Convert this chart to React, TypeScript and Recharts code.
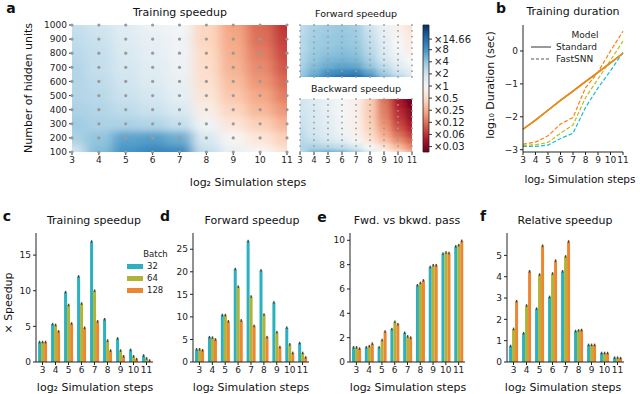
import {
  ScatterChart,
  Scatter,
  XAxis,
  YAxis,
  LineChart,
  Line,
  BarChart,
  Bar,
  Legend,
  ComposedChart,
  ReferenceArea,
} from "recharts";

const steps = [3, 4, 5, 6, 7, 8, 9, 10, 11];
const hiddenUnits = [100, 200, 300, 400, 500, 600, 700, 800, 900, 1000];

// heatmaps: log2 of the speedup, one row per hidden-unit count (100 -> 1000), one column per step (3 -> 11)
const trainingLog2 = [
  [1.0, 2.2, 3.0, 3.3, 3.2, 1.2, 0.4, -0.1, -0.8],
  [1.6, 2.0, 2.7, 2.8, 2.5, 0.8, -0.1, -0.7, -1.3],
  [1.8, 1.6, 1.6, 1.5, 1.2, 0.2, -0.7, -1.3, -1.9],
  [1.6, 1.5, 1.3, 1.1, 0.8, -0.4, -1.2, -1.8, -2.4],
  [1.5, 1.4, 1.1, 0.9, 0.5, -0.7, -1.5, -2.1, -2.8],
  [1.5, 1.3, 1.0, 0.7, 0.4, -0.9, -1.7, -2.4, -3.1],
  [1.5, 1.2, 0.9, 0.6, 0.3, -1.0, -1.9, -2.6, -3.4],
  [1.4, 1.2, 0.8, 0.5, 0.2, -1.1, -2.0, -2.8, -3.6],
  [1.3, 1.1, 0.7, 0.4, 0.2, -1.2, -2.1, -3.0, -3.8],
  [1.2, 1.0, 0.6, 0.3, 0.1, -1.2, -2.2, -3.1, -4.0],
];
const forwardLog2 = [
  [2.0, 2.8, 3.4, 3.9, 4.0, 3.3, 2.2, 1.5, 0.8],
  [1.8, 2.4, 3.0, 3.2, 3.3, 2.6, 1.7, 1.0, 0.5],
  [1.6, 2.2, 2.5, 2.7, 2.6, 2.0, 1.3, 0.6, 0.2],
  [1.5, 2.0, 2.3, 2.4, 2.3, 1.7, 1.0, 0.4, 0.0],
  [1.5, 1.9, 2.1, 2.2, 2.1, 1.5, 0.8, 0.2, -0.2],
  [1.4, 1.8, 2.0, 2.1, 2.0, 1.4, 0.7, 0.1, -0.4],
  [1.4, 1.8, 1.9, 2.0, 1.9, 1.3, 0.6, 0.0, -0.5],
  [1.4, 1.7, 1.9, 2.0, 1.8, 1.2, 0.5, -0.1, -0.6],
  [1.3, 1.7, 1.8, 1.9, 1.8, 1.1, 0.4, -0.2, -0.7],
  [1.3, 1.6, 1.8, 1.9, 1.7, 1.0, 0.3, -0.3, -0.8],
];
const backwardLog2 = [
  [1.4, 2.2, 2.4, 2.2, 1.6, 0.6, 0.0, -1.0, -1.9],
  [1.5, 1.6, 1.4, 1.2, 0.8, 0.0, -0.9, -1.8, -2.7],
  [1.4, 1.2, 0.9, 0.6, 0.1, -0.7, -1.6, -2.5, -3.3],
  [1.3, 1.0, 0.7, 0.3, -0.2, -1.0, -2.0, -3.0, -3.8],
  [1.2, 0.9, 0.6, 0.2, -0.3, -1.2, -2.3, -3.4, -4.2],
  [1.1, 0.9, 0.5, 0.2, -0.3, -1.3, -2.5, -3.7, -4.5],
  [1.1, 0.8, 0.5, 0.1, -0.3, -1.4, -2.7, -3.9, -4.8],
  [1.0, 0.8, 0.4, 0.1, -0.3, -1.4, -2.8, -4.1, -5.0],
  [1.0, 0.7, 0.4, 0.1, -0.3, -1.4, -2.9, -4.3, -5.2],
  [1.0, 0.7, 0.4, 0.1, -0.3, -1.4, -3.0, -4.4, -5.4],
];

const CB_MIN = -5.45;
const CB_MAX = 5.04;
const colorbarTicks = [-5, -4, -3, -2, -1, 0, 1, 2, 3, Math.log2(14.66)];
const colorbarLabels = ["×0.03", "×0.06", "×0.12", "×0.25", "×0.5", "×1", "×2", "×4", "×8", "×14.66"];

// b: log10 training duration (sec)
const standard32 = [-2.38, -2.1, -1.8, -1.5, -1.22, -0.93, -0.65, -0.36, -0.07];
const standard64 = [-2.38, -2.1, -1.8, -1.5, -1.22, -0.93, -0.65, -0.36, -0.07];
const standard128 = [-2.38, -2.1, -1.8, -1.5, -1.22, -0.93, -0.65, -0.36, -0.07];
const fast32 = [-2.9, -2.9, -2.86, -2.66, -2.5, -1.72, -1.12, -0.6, -0.04];
const fast64 = [-2.87, -2.85, -2.78, -2.5, -2.25, -1.42, -0.85, -0.28, 0.3];
const fast128 = [-2.83, -2.77, -2.58, -2.22, -2.02, -1.12, -0.64, 0.0, 0.6];

// c-f: bar heights per batch size
const trainSpeed32 = [2.8, 5.3, 9.8, 12.0, 16.9, 6.0, 3.3, 1.7, 0.9];
const trainSpeed64 = [2.8, 5.2, 8.0, 8.2, 10.0, 3.0, 1.6, 0.8, 0.5];
const trainSpeed128 = [2.8, 4.3, 5.4, 4.8, 5.7, 1.6, 0.8, 0.4, 0.2];
const fwdSpeed32 = [2.8, 5.5, 10.4, 20.6, 26.8, 20.3, 13.2, 7.6, 4.2];
const fwdSpeed64 = [2.8, 5.4, 10.4, 16.7, 14.5, 10.5, 6.6, 3.9, 2.0];
const fwdSpeed128 = [2.6, 5.0, 9.0, 9.2, 8.0, 5.5, 3.3, 2.0, 1.0];
const fwdBwd32 = [1.2, 1.2, 1.2, 2.7, 2.4, 6.3, 7.8, 8.9, 9.5];
const fwdBwd64 = [1.2, 1.3, 1.8, 3.3, 2.1, 6.5, 7.95, 9.0, 9.6];
const fwdBwd128 = [1.1, 1.5, 2.5, 3.1, 2.0, 6.7, 7.95, 8.95, 9.95];
const relSpeed32 = [0.75, 1.35, 2.5, 3.05, 4.25, 1.45, 0.8, 0.42, 0.2];
const relSpeed64 = [1.55, 2.65, 4.1, 4.15, 4.95, 1.48, 0.8, 0.42, 0.2];
const relSpeed128 = [2.85, 4.25, 5.45, 4.75, 5.65, 1.5, 0.8, 0.42, 0.18];

const batchLabels = ["32", "64", "128"];
const BAR_COLORS = ["#2cb1c0", "#b2b335", "#ec8630"];
const LINE_COLORS = ["#17becf", "#bcbd22", "#ff7f0e"];
const TXT = "#222";

const RDBU = ["#67001f", "#b2182b", "#d6604d", "#f4a582", "#fddbc7", "#f7f7f7", "#d1e5f0", "#92c5de", "#4393c3", "#2166ac", "#053061"];

const hex = (h: string) => [1, 3, 5].map((i) => parseInt(h.slice(i, i + 2), 16));
const rdbu = (t: number) => {
  const p = Math.max(0, Math.min(1, t)) * (RDBU.length - 1);
  const i = Math.min(Math.floor(p), RDBU.length - 2);
  const f = p - i;
  const a = hex(RDBU[i]);
  const b = hex(RDBU[i + 1]);
  const c = a.map((v, k) => Math.round(v + (b[k] - v) * f));
  return `rgb(${c[0]},${c[1]},${c[2]})`;
};
const colorFor = (v: number) => rdbu(v >= 0 ? 0.5 + (0.5 * v) / CB_MAX : 0.5 - (0.5 * v) / CB_MIN);

const heatPoints = (grid: number[][]) =>
  hiddenUnits.flatMap((h, i) => steps.map((s, j) => ({ x: s, y: h, v: grid[i][j] })));

// cells are centred on the grid points; the outer ones reach past the plot so the blur has no soft edge (clipped in CSS)
const EXT = 24;
const cellShape = (cw: number, ch: number) => (p: any) => {
  const { cx, cy, payload } = p;
  const l = cw / 2 + (payload.x === steps[0] ? EXT : 0);
  const r = cw / 2 + 0.5 + (payload.x === steps[steps.length - 1] ? EXT : 0);
  const t = ch / 2 + (payload.y === hiddenUnits[hiddenUnits.length - 1] ? EXT : 0);
  const b = ch / 2 + 0.5 + (payload.y === hiddenUnits[0] ? EXT : 0);
  return <rect x={cx - l} y={cy - t} width={l + r} height={t + b} fill={colorFor(payload.v)} />;
};

const dotShape = (rad: number) => (p: any) => <circle cx={p.cx} cy={p.cy} r={rad} fill="#9a9a9a" />;

const Txt = ({ x, y, size = 11, bold = false, rotate = 0, children }: any) => (
  <div
    style={{
      position: "absolute",
      left: x,
      top: y,
      transform: `translate(-50%, -50%) rotate(${rotate}deg)`,
      fontSize: size,
      fontWeight: bold ? "bold" : "normal",
      whiteSpace: "nowrap",
      lineHeight: 1,
      color: "#111",
    }}
  >
    {children}
  </div>
);

const Heatmap = ({ grid, left, top, width, height, margin, yWidth, xHeight, heatClass, dotR, fontSize, showX, showYLabels }: any) => {
  const plotW = width - margin.left - margin.right - yWidth;
  const plotH = height - margin.top - margin.bottom - (showX ? xHeight : 0);
  const pts = heatPoints(grid);
  return (
    <div style={{ position: "absolute", left, top }}>
      <ScatterChart width={width} height={height} margin={margin}>
        <XAxis
          type="number"
          dataKey="x"
          domain={[3, 11]}
          ticks={steps}
          interval={0}
          hide={!showX}
          height={xHeight}
          axisLine={false}
          tickSize={3}
          tickLine={{ stroke: "#333" }}
          tick={{ fontSize, fill: TXT }}
        />
        <YAxis
          type="number"
          dataKey="y"
          domain={[100, 1000]}
          ticks={hiddenUnits}
          interval={0}
          width={yWidth}
          axisLine={false}
          tickSize={3}
          tickLine={{ stroke: "#333" }}
          tick={showYLabels ? { fontSize, fill: TXT } : false}
        />
        <Scatter
          data={pts}
          className={heatClass}
          shape={cellShape(plotW / (steps.length - 1), plotH / (hiddenUnits.length - 1))}
          isAnimationActive={false}
        />
        <Scatter data={pts} shape={dotShape(dotR)} isAnimationActive={false} />
      </ScatterChart>
    </div>
  );
};

const Colorbar = () => (
  <div style={{ position: "absolute", left: 400, top: 0 }}>
    <ComposedChart width={80} height={170} data={[{ x: 0 }]} margin={{ top: 25, right: 6, bottom: 18, left: 23 }}>
      <XAxis dataKey="x" hide />
      <YAxis
        orientation="right"
        type="number"
        domain={[CB_MIN, CB_MAX]}
        ticks={colorbarTicks}
        interval={0}
        width={45}
        allowDataOverflow
        axisLine={false}
        tickSize={3}
        tickLine={{ stroke: "#333" }}
        tick={{ fontSize: 10, fill: TXT }}
        tickFormatter={(v: number) => colorbarLabels[colorbarTicks.indexOf(v)]}
      />
      <ReferenceArea y1={CB_MIN} y2={CB_MAX} fill="url(#rdbuGrad)" fillOpacity={1} stroke="#222" strokeWidth={0.8} ifOverflow="visible" />
    </ComposedChart>
  </div>
);

const ModelLegend = () => (
  <div style={{ fontSize: 9, color: "#222", lineHeight: "12px" }}>
    <div style={{ textAlign: "center", paddingLeft: 20 }}>Model</div>
    {[
      ["Standard", "0"],
      ["FastSNN", "3 2"],
    ].map(([name, dash]) => (
      <div key={name} style={{ display: "flex", alignItems: "center" }}>
        <svg width={26} height={12}>
          <line x1={1} x2={21} y1={6} y2={6} stroke="#555" strokeWidth={1.2} strokeDasharray={dash} />
        </svg>
        <span>{name}</span>
      </div>
    ))}
  </div>
);

const durationRows = steps.map((s, i) => ({
  step: s,
  s32: standard32[i],
  s64: standard64[i],
  s128: standard128[i],
  f32: fast32[i],
  f64: fast64[i],
  f128: fast128[i],
}));

const DurationChart = () => (
  <div style={{ position: "absolute", left: 470, top: 0 }}>
    <LineChart width={170} height={200} data={durationRows} margin={{ top: 25, right: 17, bottom: 28, left: 23 }}>
      <XAxis
        type="number"
        dataKey="step"
        domain={[3, 11]}
        ticks={steps}
        interval={0}
        height={20}
        tickSize={3}
        stroke="#222"
        tick={{ fontSize: 9, fill: TXT }}
      />
      <YAxis
        type="number"
        domain={[-3.07, 0.79]}
        ticks={[-3, -2, -1, 0]}
        interval={0}
        width={30}
        allowDataOverflow
        tickSize={3}
        stroke="#222"
        tick={{ fontSize: 9, fill: TXT }}
        tickFormatter={(v: number) => (v < 0 ? `−${-v}` : `${v}`)}
      />
      <Legend
        layout="vertical"
        verticalAlign="middle"
        align="center"
        content={() => <ModelLegend />}
        wrapperStyle={{ position: "absolute", left: 60, top: 29, width: 90 }}
      />
      {["f32", "f64", "f128"].map((k, i) => (
        <Line key={k} dataKey={k} stroke={LINE_COLORS[i]} strokeWidth={1.2} strokeDasharray="4 2" dot={false} isAnimationActive={false} />
      ))}
      {["s32", "s64", "s128"].map((k, i) => (
        <Line key={k} dataKey={k} stroke={LINE_COLORS[i]} strokeWidth={1.4} dot={false} isAnimationActive={false} />
      ))}
    </LineChart>
  </div>
);

const BarWithCap = (p: any) => {
  const { x, y, width, height, fill } = p;
  return (
    <g>
      <rect x={x} y={y} width={width} height={height} fill={fill} />
      <rect x={x + width / 2 - 0.7} y={y - 1.3} width={1.4} height={2.6} fill="#444" />
    </g>
  );
};

const BatchLegend = () => (
  <div style={{ fontSize: 8.5, color: "#222", lineHeight: "12px" }}>
    <div style={{ textAlign: "center", paddingLeft: 12 }}>Batch</div>
    {batchLabels.map((b, i) => (
      <div key={b} style={{ display: "flex", alignItems: "center" }}>
        <span style={{ display: "inline-block", width: 16, height: 5, background: BAR_COLORS[i], marginRight: 4 }} />
        <span>{b}</span>
      </div>
    ))}
  </div>
);

const SpeedBars = ({ left, width, margin, yWidth, domain, ticks, a, b, c, legend }: any) => {
  const rows = steps.map((s, i) => ({ step: s, b32: a[i], b64: b[i], b128: c[i] }));
  return (
    <div style={{ position: "absolute", left, top: 200 }}>
      <BarChart width={width} height={194} data={rows} margin={margin} barCategoryGap="16%" barGap={0}>
        <XAxis dataKey="step" interval={0} height={20} tickSize={3} stroke="#222" tick={{ fontSize: 9, fill: TXT }} />
        <YAxis
          type="number"
          domain={domain}
          ticks={ticks}
          interval={0}
          width={yWidth}
          allowDataOverflow
          tickSize={3}
          stroke="#222"
          tick={{ fontSize: 9, fill: TXT }}
        />
        {legend && (
          <Legend
            layout="vertical"
            verticalAlign="middle"
            align="center"
            content={() => <BatchLegend />}
            wrapperStyle={{ position: "absolute", left: 127, top: 48, width: 45 }}
          />
        )}
        {["b32", "b64", "b128"].map((k, i) => (
          <Bar key={k} dataKey={k} fill={BAR_COLORS[i]} shape={BarWithCap} isAnimationActive={false} />
        ))}
      </BarChart>
    </div>
  );
};

const gradStops = Array.from({ length: 21 }, (_, i) => i / 20);

export default function App() {
  return (
    <div
      style={{
        position: "absolute",
        left: 0,
        top: 0,
        width: 640,
        height: 394,
        background: "#fff",
        fontFamily: "DejaVu Sans, sans-serif",
        overflow: "hidden",
      }}
    >
      <style>{`
        .heat-main { filter: url(#blurBig); clip-path: url(#clipMain); }
        .heat-fwd { filter: url(#blurSmall); clip-path: url(#clipFwd); }
        .heat-bwd { filter: url(#blurSmall); clip-path: url(#clipBwd); }
      `}</style>
      <svg width={0} height={0} style={{ position: "absolute" }}>
        <defs>
          <filter id="blurBig" x="-20%" y="-20%" width="140%" height="140%">
            <feGaussianBlur stdDeviation="6 3.5" />
          </filter>
          <filter id="blurSmall" x="-20%" y="-20%" width="140%" height="140%">
            <feGaussianBlur stdDeviation="3.5 1.6" />
          </filter>
          <clipPath id="clipMain" clipPathUnits="userSpaceOnUse">
            <rect x={72} y={25} width={215} height={127} />
          </clipPath>
          <clipPath id="clipFwd" clipPathUnits="userSpaceOnUse">
            <rect x={20} y={25} width={112} height={52} />
          </clipPath>
          <clipPath id="clipBwd" clipPathUnits="userSpaceOnUse">
            <rect x={20} y={19} width={112} height={53} />
          </clipPath>
          <linearGradient id="rdbuGrad" x1="0" y1="0" x2="0" y2="1">
            {gradStops.map((f) => (
              <stop key={f} offset={f} stopColor={colorFor(CB_MAX - f * (CB_MAX - CB_MIN))} />
            ))}
          </linearGradient>
        </defs>
      </svg>

      <Heatmap
        grid={trainingLog2}
        left={0}
        top={0}
        width={300}
        height={200}
        margin={{ top: 25, right: 13, bottom: 0, left: 0 }}
        yWidth={72}
        xHeight={48}
        heatClass="heat-main"
        dotR={1.6}
        fontSize={9}
        showX
        showYLabels
      />
      <Heatmap
        grid={forwardLog2}
        left={280}
        top={0}
        width={140}
        height={90}
        margin={{ top: 25, right: 8, bottom: 13, left: 0 }}
        yWidth={20}
        xHeight={0}
        heatClass="heat-fwd"
        dotR={0.9}
        fontSize={8}
        showX={false}
        showYLabels={false}
      />
      <Heatmap
        grid={backwardLog2}
        left={280}
        top={80}
        width={140}
        height={110}
        margin={{ top: 19, right: 8, bottom: 18, left: 0 }}
        yWidth={20}
        xHeight={20}
        heatClass="heat-bwd"
        dotR={0.9}
        fontSize={8}
        showX
        showYLabels={false}
      />
      <Colorbar />
      <DurationChart />

      <SpeedBars left={0} width={170} margin={{ top: 33, right: 17, bottom: 12, left: 12 }} yWidth={24} domain={[0, 18.1]} ticks={[0, 5, 10, 15]} a={trainSpeed32} b={trainSpeed64} c={trainSpeed128} legend />
      <SpeedBars left={160} width={160} margin={{ top: 33, right: 11, bottom: 12, left: 9 }} yWidth={24} domain={[0, 28.6]} ticks={[0, 5, 10, 15, 20, 25]} a={fwdSpeed32} b={fwdSpeed64} c={fwdSpeed128} />
      <SpeedBars left={310} width={160} margin={{ top: 33, right: 5, bottom: 12, left: 16 }} yWidth={24} domain={[0, 10.6]} ticks={[0, 2, 4, 6, 8, 10]} a={fwdBwd32} b={fwdBwd64} c={fwdBwd128} />
      <SpeedBars left={470} width={170} margin={{ top: 33, right: 16, bottom: 12, left: 13 }} yWidth={24} domain={[0, 6.05]} ticks={[0, 1, 2, 3, 4, 5]} a={relSpeed32} b={relSpeed64} c={relSpeed128} />

      <Txt x={11} y={8} size={14} bold>a</Txt>
      <Txt x={180} y={12}>Training speedup</Txt>
      <Txt x={28} y={88} rotate={-90}>Number of hidden units</Txt>
      <Txt x={248} y={182}>log₂ Simulation steps</Txt>
      <Txt x={356} y={14} size={9.5}>Forward speedup</Txt>
      <Txt x={356} y={89} size={9.5}>Backward speedup</Txt>

      <Txt x={501} y={8} size={14} bold>b</Txt>
      <Txt x={573} y={11}>Training duration</Txt>
      <Txt x={490} y={85} rotate={-90}>log₁₀ Duration (sec)</Txt>
      <Txt x={580} y={179} size={10.5}>log₂ Simulation steps</Txt>

      <Txt x={7} y={216} size={14} bold>c</Txt>
      <Txt x={94} y={220}>Training speedup</Txt>
      <Txt x={8} y={303} rotate={-90}>× Speedup</Txt>
      <Txt x={95} y={387}>log₂ Simulation steps</Txt>

      <Txt x={165} y={216} size={14} bold>d</Txt>
      <Txt x={252} y={220}>Forward speedup</Txt>
      <Txt x={251} y={387}>log₂ Simulation steps</Txt>

      <Txt x={322} y={217} size={14} bold>e</Txt>
      <Txt x={407} y={220}>Fwd. vs bkwd. pass</Txt>
      <Txt x={408} y={387}>log₂ Simulation steps</Txt>

      <Txt x={483} y={216} size={14} bold>f</Txt>
      <Txt x={565} y={220}>Relative speedup</Txt>
      <Txt x={563} y={387}>log₂ Simulation steps</Txt>
    </div>
  );
}
